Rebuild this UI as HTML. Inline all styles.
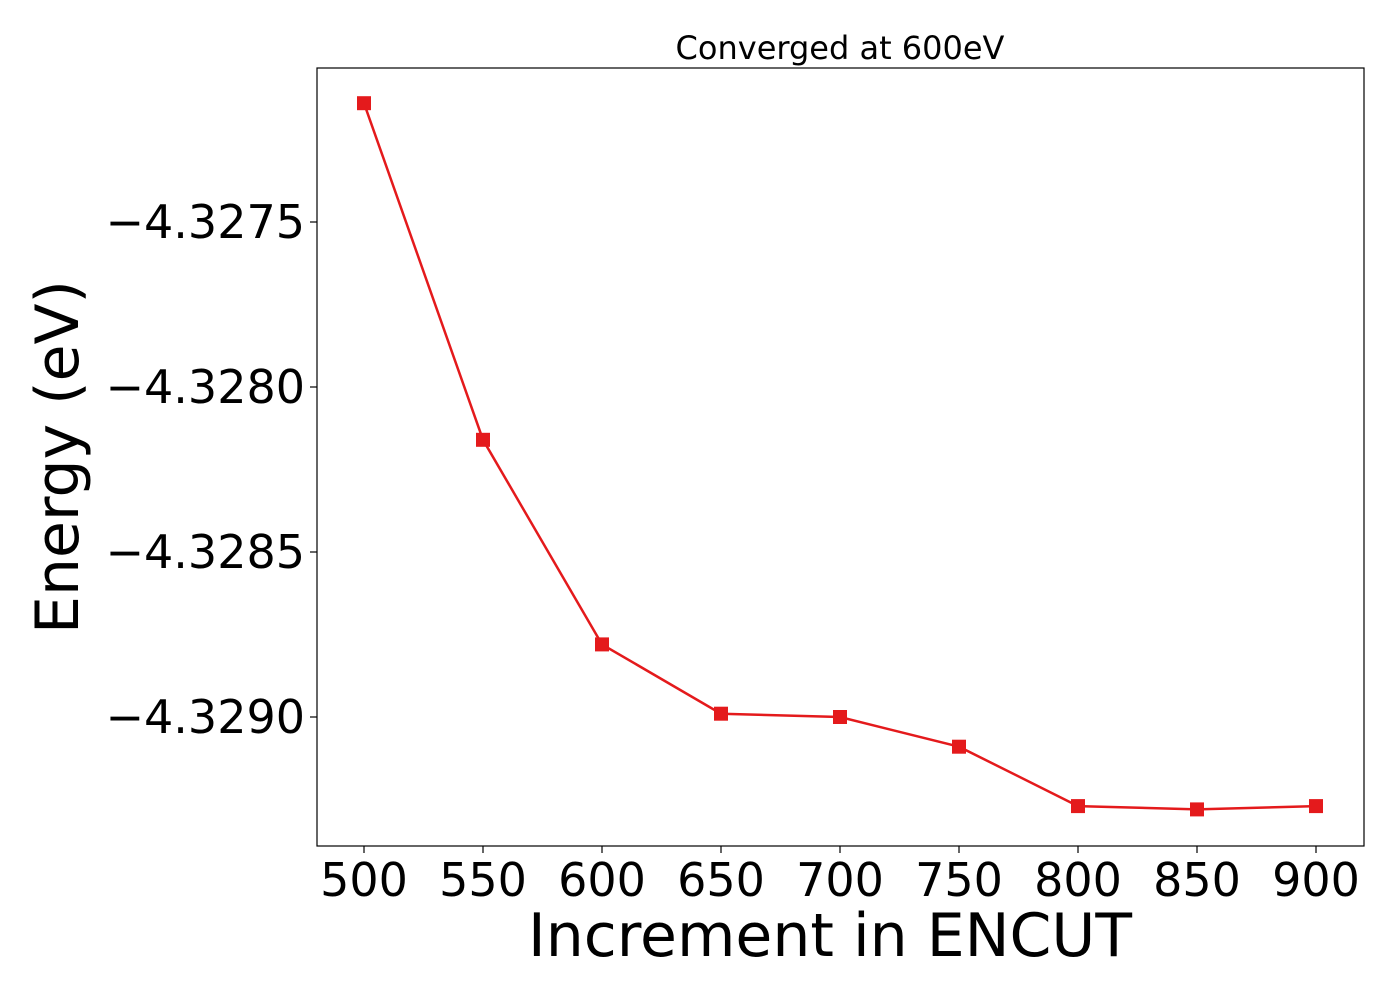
<!DOCTYPE html>
<html><head><meta charset="utf-8"><style>
body{margin:0;background:#fff;}
svg text{font-family:"DejaVu Sans","Liberation Sans",sans-serif;fill:#000;}
</style></head><body>
<svg id="chart" width="1400" height="1000" viewBox="0 0 1400 1000" xmlns="http://www.w3.org/2000/svg">
<rect width="1400" height="1000" fill="#fff"/>
<g id="plot"></g>
</svg>
<script>
const categories=[500,550,600,650,700,750,800,850,900];
const energies=[-4.32714,-4.32816,-4.32878,-4.32899,-4.32900,-4.32909,-4.32927,-4.32928,-4.32927];
const xTicks=[500,550,600,650,700,750,800,850,900];
const yTicks=[-4.3275,-4.3280,-4.3285,-4.3290];
const yTickLabels=["\u22124.3275","\u22124.3280","\u22124.3285","\u22124.3290"];

const L=317,R=1364,T=68,B=846;
function xs(v){return 364+(v-500)*(1316-364)/400;}
function ys(v){return 222+(-4.3275-v)*165/0.0005;}
const ns="http://www.w3.org/2000/svg";
const g=document.getElementById('plot');
function mk(tag,attrs,txt){const e=document.createElementNS(ns,tag);for(const k in attrs)e.setAttribute(k,attrs[k]);if(txt!==undefined)e.textContent=txt;g.appendChild(e);return e;}

let fr=mk('rect',{x:L,y:T,width:R-L,height:B-T,fill:'none',stroke:'#000','stroke-width':1.2});



xTicks.forEach(v=>{
 const x=xs(v);
 const t=mk('line',{x1:x,x2:x,y1:B,y2:B+7,stroke:'#000','stroke-width':1.2});
 
 
 const l=mk('text',{x:x,y:B+50,'font-size':46,'text-anchor':'middle'},String(v));
 
 
});
yTicks.forEach((v,i)=>{
 const y=ys(v);
 const t=mk('line',{x1:L-7,x2:L,y1:y,y2:y,stroke:'#000','stroke-width':1.2});
 
 
 const l=mk('text',{x:L-12,y:y+16,'font-size':46,'text-anchor':'end'},yTickLabels[i]);
 
 
});

const pts=categories.map((c,i)=>xs(c)+','+ys(energies[i])).join(' ');
const line=mk('polyline',{points:pts,fill:'none',stroke:'#e41a1c','stroke-width':2.5});


categories.forEach((c,i)=>{
 const m=mk('rect',{x:xs(c)-7,y:ys(energies[i])-7,width:14,height:14,fill:'#e41a1c'});
 
 
});

const ti=mk('text',{x:840,y:59,'font-size':32,'text-anchor':'middle'},'Converged at 600eV');


const xl=mk('text',{x:830,y:956,'font-size':60,'text-anchor':'middle'},'Increment in ENCUT');


const yl=mk('text',{x:0,y:0,'font-size':60,'text-anchor':'middle',transform:'translate(78,457) rotate(-90)'},'Energy (eV)');


</script>
</body></html>
